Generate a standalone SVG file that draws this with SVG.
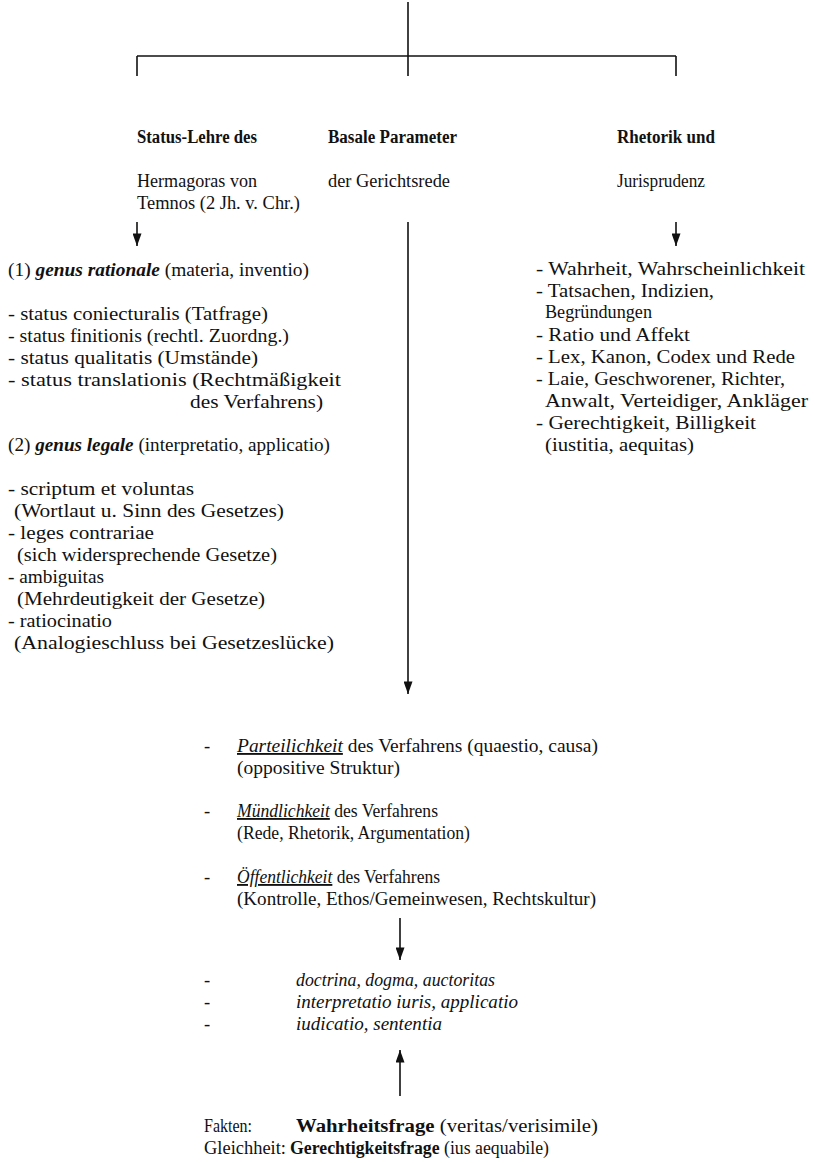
<svg xmlns="http://www.w3.org/2000/svg" width="815" height="1163" viewBox="0 0 815 1163">
<style>
text{font-family:"Liberation Serif","Times New Roman",serif;font-size:18.5px;fill:#111;}
.b{font-weight:bold;}
.i{font-style:italic;}
.bi{font-style:italic;font-weight:bold;}
.u{text-decoration:underline;}
.ln{stroke:#111;stroke-width:1.6;fill:none;}
</style>
<defs>
<marker id="ahd" viewBox="0 0 14 10" refX="14" refY="5" markerWidth="13" markerHeight="9" markerUnits="userSpaceOnUse" orient="auto">
<path d="M0,0 L14,5 L0,10 Z" fill="#111"/>
</marker>
</defs>
<g id="connectors">
<line class="ln" x1="408" y1="2" x2="408" y2="76"/>
<line class="ln" x1="137" y1="56" x2="676" y2="56"/>
<line class="ln" x1="137" y1="56" x2="137" y2="76"/>
<line class="ln" x1="676" y1="56" x2="676" y2="76"/>
<line class="ln" x1="137" y1="222" x2="137" y2="246" marker-end="url(#ahd)"/>
<line class="ln" x1="408" y1="222" x2="408" y2="694" marker-end="url(#ahd)"/>
<line class="ln" x1="676" y1="222" x2="676" y2="246" marker-end="url(#ahd)"/>
<line class="ln" x1="400" y1="918" x2="400" y2="960" marker-end="url(#ahd)"/>
<line class="ln" x1="400" y1="1096" x2="400" y2="1050" marker-end="url(#ahd)"/>
</g>
<g id="status-lehre">
<text x="137" y="143" class="b" textLength="120" lengthAdjust="spacingAndGlyphs">Status-Lehre des</text>
<text x="137" y="187" textLength="120" lengthAdjust="spacingAndGlyphs">Hermagoras von</text>
<text x="137" y="209" textLength="163" lengthAdjust="spacingAndGlyphs">Temnos (2 Jh. v. Chr.)</text>
</g>
<g id="basale-parameter">
<text x="328" y="143" class="b" textLength="129" lengthAdjust="spacingAndGlyphs">Basale Parameter</text>
<text x="328" y="187" textLength="122" lengthAdjust="spacingAndGlyphs">der Gerichtsrede</text>
</g>
<g id="rhetorik">
<text x="617" y="143" class="b" textLength="98" lengthAdjust="spacingAndGlyphs">Rhetorik und</text>
<text x="617" y="187" textLength="88" lengthAdjust="spacingAndGlyphs">Jurisprudenz</text>
</g>
<g id="genus-list">
<text x="8" y="276" textLength="301" lengthAdjust="spacingAndGlyphs">(1) <tspan class="bi">genus rationale</tspan> (materia, inventio)</text>
<text x="8" y="320" textLength="260" lengthAdjust="spacingAndGlyphs">- status coniecturalis (Tatfrage)</text>
<text x="8" y="342" textLength="281" lengthAdjust="spacingAndGlyphs">- status finitionis (rechtl. Zuordng.)</text>
<text x="8" y="364" textLength="250" lengthAdjust="spacingAndGlyphs">- status qualitatis (Umstände)</text>
<text x="8" y="386" textLength="333" lengthAdjust="spacingAndGlyphs">- status translationis (Rechtmäßigkeit</text>
<text x="190" y="408" textLength="133" lengthAdjust="spacingAndGlyphs">des Verfahrens)</text>
<text x="8" y="451" textLength="322" lengthAdjust="spacingAndGlyphs">(2) <tspan class="bi">genus legale</tspan> (interpretatio, applicatio)</text>
<text x="8" y="495" textLength="186" lengthAdjust="spacingAndGlyphs">- scriptum et voluntas</text>
<text x="14" y="517" textLength="270" lengthAdjust="spacingAndGlyphs">(Wortlaut u. Sinn des Gesetzes)</text>
<text x="8" y="539" textLength="146" lengthAdjust="spacingAndGlyphs">- leges contrariae</text>
<text x="17" y="561" textLength="260" lengthAdjust="spacingAndGlyphs">(sich widersprechende Gesetze)</text>
<text x="8" y="583" textLength="96" lengthAdjust="spacingAndGlyphs">- ambiguitas</text>
<text x="17" y="605" textLength="248" lengthAdjust="spacingAndGlyphs">(Mehrdeutigkeit der Gesetze)</text>
<text x="8" y="627" textLength="104" lengthAdjust="spacingAndGlyphs">- ratiocinatio</text>
<text x="14" y="649" textLength="320" lengthAdjust="spacingAndGlyphs">(Analogieschluss bei Gesetzeslücke)</text>
</g>
<g id="rhetorik-list">
<text x="536" y="275" textLength="269" lengthAdjust="spacingAndGlyphs">- Wahrheit, Wahrscheinlichkeit</text>
<text x="536" y="297" textLength="178" lengthAdjust="spacingAndGlyphs">- Tatsachen, Indizien,</text>
<text x="545" y="318" textLength="107" lengthAdjust="spacingAndGlyphs">Begründungen</text>
<text x="536" y="341" textLength="154" lengthAdjust="spacingAndGlyphs">- Ratio und Affekt</text>
<text x="536" y="363" textLength="259" lengthAdjust="spacingAndGlyphs">- Lex, Kanon, Codex und Rede</text>
<text x="536" y="385" textLength="249" lengthAdjust="spacingAndGlyphs">- Laie, Geschworener, Richter,</text>
<text x="545" y="407" textLength="263" lengthAdjust="spacingAndGlyphs">Anwalt, Verteidiger, Ankläger</text>
<text x="536" y="429" textLength="220" lengthAdjust="spacingAndGlyphs">- Gerechtigkeit, Billigkeit</text>
<text x="545" y="451" textLength="149" lengthAdjust="spacingAndGlyphs">(iustitia, aequitas)</text>
</g>
<g id="verfahren">
<text x="204" y="752">-</text>
<text x="237" y="752" textLength="361" lengthAdjust="spacingAndGlyphs"><tspan class="i u">Parteilichkeit</tspan> des Verfahrens (quaestio, causa)</text>
<text x="237" y="774" textLength="163" lengthAdjust="spacingAndGlyphs">(oppositive Struktur)</text>
<text x="204" y="817">-</text>
<text x="237" y="817" textLength="201" lengthAdjust="spacingAndGlyphs"><tspan class="i u">Mündlichkeit</tspan> des Verfahrens</text>
<text x="237" y="839" textLength="233" lengthAdjust="spacingAndGlyphs">(Rede, Rhetorik, Argumentation)</text>
<text x="204" y="883">-</text>
<text x="237" y="883" textLength="203" lengthAdjust="spacingAndGlyphs"><tspan class="i u">Öffentlichkeit</tspan> des Verfahrens</text>
<text x="237" y="905" textLength="359" lengthAdjust="spacingAndGlyphs">(Kontrolle, Ethos/Gemeinwesen, Rechtskultur)</text>
</g>
<g id="doctrina">
<text x="204" y="986">-</text>
<text x="296" y="986" class="i" textLength="199" lengthAdjust="spacingAndGlyphs">doctrina, dogma, auctoritas</text>
<text x="204" y="1008">-</text>
<text x="296" y="1008" class="i" textLength="222" lengthAdjust="spacingAndGlyphs">interpretatio iuris, applicatio</text>
<text x="204" y="1030">-</text>
<text x="296" y="1030" class="i" textLength="146" lengthAdjust="spacingAndGlyphs">iudicatio, sententia</text>
</g>
<g id="fragen">
<text x="204" y="1132" textLength="48" lengthAdjust="spacingAndGlyphs">Fakten:</text>
<text x="296" y="1132" textLength="302" lengthAdjust="spacingAndGlyphs"><tspan class="b">Wahrheitsfrage</tspan> (veritas/verisimile)</text>
<text x="204" y="1154" textLength="82" lengthAdjust="spacingAndGlyphs">Gleichheit:</text>
<text x="290" y="1154" textLength="259" lengthAdjust="spacingAndGlyphs"><tspan class="b">Gerechtigkeitsfrage</tspan> (ius aequabile)</text>
</g>
</svg>
